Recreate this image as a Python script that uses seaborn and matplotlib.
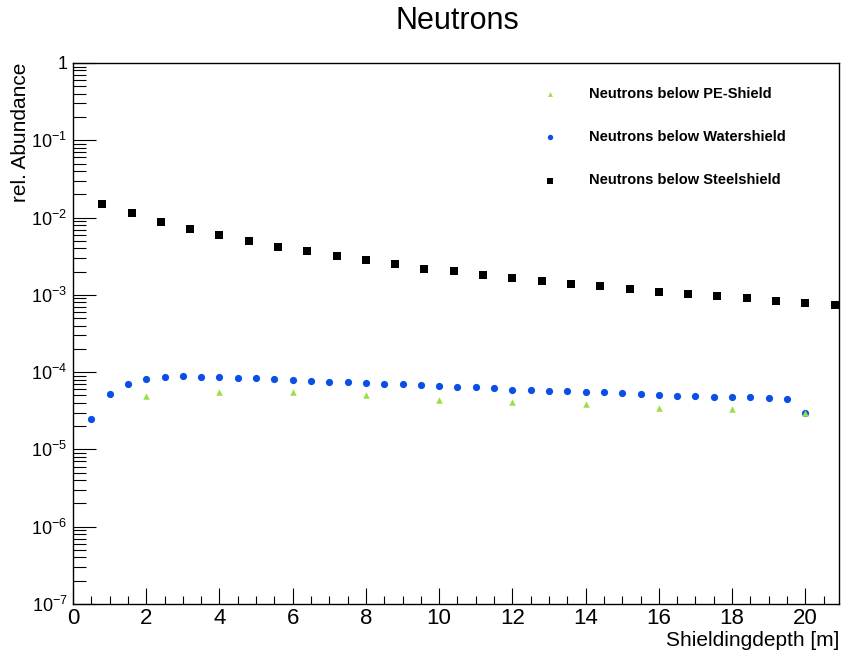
import matplotlib
matplotlib.use("Agg")
import matplotlib.pyplot as plt
import matplotlib.ticker as mticker
import pandas as pd
import seaborn as sns

# Neutron abundance below each shield type vs. shielding depth
pe_depth = [2, 4, 6, 8, 10, 12, 14, 16, 18, 20]
pe_abund = [4.9e-5, 5.5e-5, 5.45e-5, 5.0e-5, 4.4e-5, 4.05e-5, 3.9e-5, 3.45e-5, 3.35e-5, 3.0e-5]

water_depth = [0.5, 1.0, 1.5, 2.0, 2.5, 3.0, 3.5, 4.0, 4.5, 5.0,
               5.5, 6.0, 6.5, 7.0, 7.5, 8.0, 8.5, 9.0, 9.5, 10.0,
               10.5, 11.0, 11.5, 12.0, 12.5, 13.0, 13.5, 14.0, 14.5, 15.0,
               15.5, 16.0, 16.5, 17.0, 17.5, 18.0, 18.5, 19.0, 19.5, 20.0]
water_abund = [2.5e-5, 5.2e-5, 7.1e-5, 8.2e-5, 8.75e-5, 8.85e-5, 8.7e-5, 8.75e-5, 8.5e-5, 8.4e-5,
               8.25e-5, 7.85e-5, 7.75e-5, 7.55e-5, 7.4e-5, 7.3e-5, 7.1e-5, 6.95e-5, 6.85e-5, 6.6e-5,
               6.45e-5, 6.35e-5, 6.3e-5, 5.95e-5, 5.9e-5, 5.75e-5, 5.7e-5, 5.6e-5, 5.45e-5, 5.35e-5,
               5.2e-5, 5.05e-5, 4.95e-5, 4.9e-5, 4.8e-5, 4.75e-5, 4.7e-5, 4.6e-5, 4.5e-5, 3.0e-5]

steel_depth = [0.8, 1.6, 2.4, 3.2, 4.0, 4.8, 5.6, 6.4, 7.2, 8.0,
               8.8, 9.6, 10.4, 11.2, 12.0, 12.8, 13.6, 14.4, 15.2, 16.0,
               16.8, 17.6, 18.4, 19.2, 20.0, 20.8]
steel_abund = [0.0150, 0.0115, 0.00885, 0.0072, 0.0060, 0.0050, 0.0042, 0.0037, 0.0032, 0.0028,
               0.00248, 0.00219, 0.00204, 0.00181, 0.00164, 0.00151, 0.00140, 0.00129, 0.00119, 0.00110,
               0.00103, 0.00097, 0.00091, 0.00083, 0.00079, 0.00074]

series_labels = ["Neutrons below PE-Shield", "Neutrons below Watershield", "Neutrons below Steelshield"]
x_ticks = [0, 2, 4, 6, 8, 10, 12, 14, 16, 18, 20]
y_ticks = [1, 1e-1, 1e-2, 1e-3, 1e-4, 1e-5, 1e-6, 1e-7]
y_tick_labels = ["1", r"$\mathregular{10^{-1}}$", r"$\mathregular{10^{-2}}$", r"$\mathregular{10^{-3}}$",
                 r"$\mathregular{10^{-4}}$", r"$\mathregular{10^{-5}}$", r"$\mathregular{10^{-6}}$",
                 r"$\mathregular{10^{-7}}$"]

sns.set_theme(style="ticks")
plt.rcParams["font.family"] = ["Liberation Sans", "DejaVu Sans"]
plt.rcParams["mathtext.fontset"] = "custom"
plt.rcParams["mathtext.rm"] = "Liberation Sans"
plt.rcParams["mathtext.it"] = "Liberation Sans:italic"
plt.rcParams["mathtext.bf"] = "Liberation Sans:bold"
for key in ["text.color", "axes.labelcolor", "xtick.color", "ytick.color", "axes.edgecolor"]:
    plt.rcParams[key] = "black"

pe_df = pd.DataFrame({"depth": pe_depth, "abund": pe_abund})
water_df = pd.DataFrame({"depth": water_depth, "abund": water_abund})
steel_df = pd.DataFrame({"depth": steel_depth, "abund": steel_abund})

fig = plt.figure(figsize=(8.42, 6.54), dpi=100)
ax = fig.add_axes([0.0867, 0.0765, 0.9097, 0.8272])

sns.scatterplot(data=steel_df, x="depth", y="abund", marker="s", s=30, color="black",
                linewidth=0, label=series_labels[2], ax=ax, zorder=3)
sns.scatterplot(data=water_df, x="depth", y="abund", marker="o", s=27, color="#0b4fe6",
                linewidth=0, label=series_labels[1], ax=ax, zorder=4)
sns.scatterplot(data=pe_df, x="depth", y="abund", marker="^", s=22, color="#9bde4c",
                linewidth=0, label=series_labels[0], ax=ax, zorder=5)

ax.set_yscale("log")
ax.set_xlim(0, 20.92)
ax.set_ylim(1e-7, 1)

ax.xaxis.set_major_locator(mticker.FixedLocator(x_ticks))
ax.xaxis.set_minor_locator(mticker.MultipleLocator(0.5))
ax.yaxis.set_major_locator(mticker.FixedLocator(y_ticks))
ax.yaxis.set_major_formatter(mticker.FixedFormatter(y_tick_labels))
ax.yaxis.set_minor_locator(mticker.LogLocator(base=10, subs=[2, 3, 4, 5, 6, 7, 8, 9], numticks=20))
ax.yaxis.set_minor_formatter(mticker.NullFormatter())

ax.tick_params(axis="both", which="both", direction="in", top=False, right=False,
               colors="black", width=0.8)
ax.tick_params(axis="x", which="major", length=11.5, labelsize=16, pad=3)
ax.tick_params(axis="x", which="minor", length=5.8)
ax.tick_params(axis="y", which="major", length=16.5, labelsize=13, pad=4)
ax.tick_params(axis="y", which="minor", length=9.4)

for sp in ax.spines.values():
    sp.set_color("black")
    sp.set_linewidth(1.0)

ax.set_xlabel("Shieldingdepth [m]", fontsize=15, loc="right", labelpad=1)
ax.set_ylabel("rel. Abundance", fontsize=15, loc="top")
ax.yaxis.set_label_coords(-0.056, 1.0)

fig.text(0.543, 0.968, "Neutrons", fontsize=22, ha="center", va="center")

handles, labels = ax.get_legend_handles_labels()
order = [labels.index(l) for l in series_labels]
ax.legend([handles[i] for i in order], [labels[i] for i in order],
          loc="upper left", bbox_to_anchor=(535.5 / 842, 1 - 87 / 654),
          bbox_transform=fig.transFigure, frameon=False, borderpad=0, borderaxespad=0,
          handlelength=2.0, handletextpad=1.65, labelspacing=2.0, markerscale=0.75,
          prop={"weight": "bold", "size": 10.5})

fig.savefig("out.png", dpi=100)
